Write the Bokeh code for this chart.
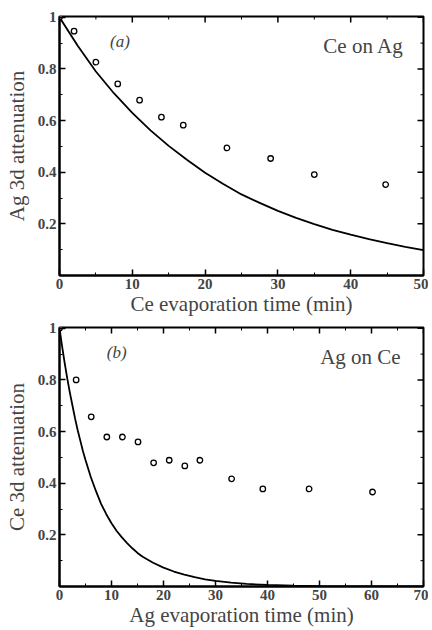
import math
from bokeh.plotting import figure
from bokeh.layouts import column
from bokeh.models import (Range1d, LinearAxis, FixedTicker, CustomJSTickFormatter, Label)
from bokeh.embed import file_html
from bokeh.resources import INLINE

# ---- Panel (a): Ce on Ag ----
a_time = [0, 2, 5, 8, 11, 14, 17, 23, 29, 35, 44.8]
a_atten = [1.0, 0.946, 0.826, 0.742, 0.679, 0.613, 0.582, 0.494, 0.453, 0.391, 0.352]
a_curve_t = [0, 2.5, 5, 7.5, 10, 12.5, 15, 17.5, 20, 22.5, 25, 27.5, 30, 32.5, 35,
             37.5, 40, 42.5, 45, 47.5, 50]
a_curve_v = [1.0, 0.89, 0.79, 0.705, 0.63, 0.562, 0.502, 0.448, 0.398, 0.354, 0.314,
             0.281, 0.25, 0.223, 0.199, 0.177, 0.158, 0.141, 0.125, 0.111, 0.098]

# ---- Panel (b): Ag on Ce ----
b_time = [0, 3.2, 6.1, 9.1, 12.1, 15.1, 18.1, 21.1, 24.1, 27.0, 33.1, 39.1, 48.0, 60.2]
b_atten = [1.0, 0.80, 0.657, 0.579, 0.579, 0.560, 0.479, 0.489, 0.467, 0.489, 0.417,
           0.378, 0.378, 0.366]
b_curve_t = [0, 0.5, 1, 1.5, 2, 2.5, 3, 3.5, 4, 4.5, 5, 6, 7, 8, 9, 10, 11, 12, 13,
             14, 15, 16, 18, 20, 22, 24, 26, 28, 30, 33, 36, 40, 45, 50, 60, 70]
b_curve_v = [1.0, 0.93, 0.865, 0.805, 0.75, 0.70, 0.65, 0.605, 0.565, 0.525, 0.49,
             0.425, 0.37, 0.32, 0.28, 0.245, 0.215, 0.19, 0.168, 0.148, 0.13, 0.115,
             0.092, 0.073, 0.058, 0.046, 0.036, 0.028, 0.022, 0.015, 0.01, 0.006,
             0.003, 0.0015, 0.0004, 0.0]

y_ticks = [0.2, 0.4, 0.6, 0.8, 1.0]
y_minor = [0.1, 0.3, 0.5, 0.7, 0.9]

SERIF = "Liberation Serif"


def make_panel(xs, ys, cx, cy, xmax, xlabel, ylabel, tag, tag_x, title, title_x,
               height, b_top, b_bottom):
    p = figure(width=428, height=height, output_backend="svg", toolbar_location=None,
               x_range=Range1d(0, xmax), y_range=Range1d(0, 1.003),
               min_border_left=59, min_border_right=5, min_border_top=b_top,
               min_border_bottom=b_bottom, x_axis_type=None, y_axis_type=None)
    p.grid.visible = False
    p.outline_line_color = "black"
    p.outline_line_width = 2
    p.background_fill_color = "white"
    p.border_fill_color = "white"

    yfmt = CustomJSTickFormatter(code="return tick > 0.99 ? '1' : tick.toFixed(1);")

    xt_major = list(range(0, int(xmax) + 1, 10))
    xt_minor = list(range(5, int(xmax), 10))

    ax = LinearAxis(ticker=FixedTicker(ticks=xt_major, minor_ticks=xt_minor))
    ax.major_tick_in = 6
    ax.major_tick_out = 0
    ax.minor_tick_in = 3
    ax.minor_tick_out = 0
    ax.axis_line_width = 2
    ax.major_tick_line_width = 1.5
    ax.axis_label = xlabel
    ax.axis_label_text_font = SERIF
    ax.axis_label_text_font_size = "21px"
    ax.axis_label_text_font_style = "normal"
    ax.axis_label_standoff = 0
    ax.major_label_text_font = SERIF
    ax.major_label_text_font_size = "15px"
    ax.major_label_text_font_style = "bold"
    ax.major_label_standoff = 3
    p.add_layout(ax, "below")

    ay = LinearAxis(ticker=FixedTicker(ticks=y_ticks, minor_ticks=y_minor),
                    formatter=yfmt)
    ay.major_tick_in = 6
    ay.major_tick_out = 0
    ay.minor_tick_in = 3
    ay.minor_tick_out = 0
    ay.axis_line_width = 2
    ay.major_tick_line_width = 1.5
    ay.axis_label = ylabel
    ay.axis_label_text_font = SERIF
    ay.axis_label_text_font_size = "21px"
    ay.axis_label_text_font_style = "normal"
    ay.axis_label_standoff = 6
    ay.major_label_text_font = SERIF
    ay.major_label_text_font_size = "15px"
    ay.major_label_text_font_style = "bold"
    ay.major_label_standoff = 3
    p.add_layout(ay, "left")

    # mirrored inward ticks on top and right edges (dash markers clipped at frame)
    p.scatter(xt_major, [1.003] * len(xt_major), marker="dash", size=12,
              angle=math.pi / 2, line_color="black", line_width=1.5)
    p.scatter(xt_minor, [1.003] * len(xt_minor), marker="dash", size=6,
              angle=math.pi / 2, line_color="black", line_width=1)
    p.scatter([xmax] * len(y_ticks), y_ticks, marker="dash", size=12,
              line_color="black", line_width=1.5)
    p.scatter([xmax] * len(y_minor), y_minor, marker="dash", size=6,
              line_color="black", line_width=1)

    p.line(cx, cy, line_color="black", line_width=1.8)
    p.scatter(xs, ys, marker="circle", size=5.5, fill_color="white",
              line_color="black", line_width=1.3)

    p.add_layout(Label(x=tag_x, y=0.905, text=tag, text_font=SERIF,
                       text_font_size="17px", text_font_style="italic",
                       text_align="center", text_baseline="middle"))
    p.add_layout(Label(x=title_x, y=0.89, text=title, text_font=SERIF,
                       text_font_size="21px", text_align="right",
                       text_baseline="alphabetic"))
    return p


p1 = make_panel(a_time, a_atten, a_curve_t, a_curve_v, 50,
                "Ce evaporation time (min)", "Ag 3d attenuation",
                "(a)", 8.3, "Ce on Ag", 47.3, 318, 16, 40)
p2 = make_panel(b_time, b_atten, b_curve_t, b_curve_v, 70,
                "Ag evaporation time (min)", "Ce 3d attenuation",
                "(b)", 11.0, "Ag on Ce", 65.6, 311, 9, 36)

layout = column(p1, p2, spacing=0)
open("out.html", "w").write(file_html(layout, INLINE))
